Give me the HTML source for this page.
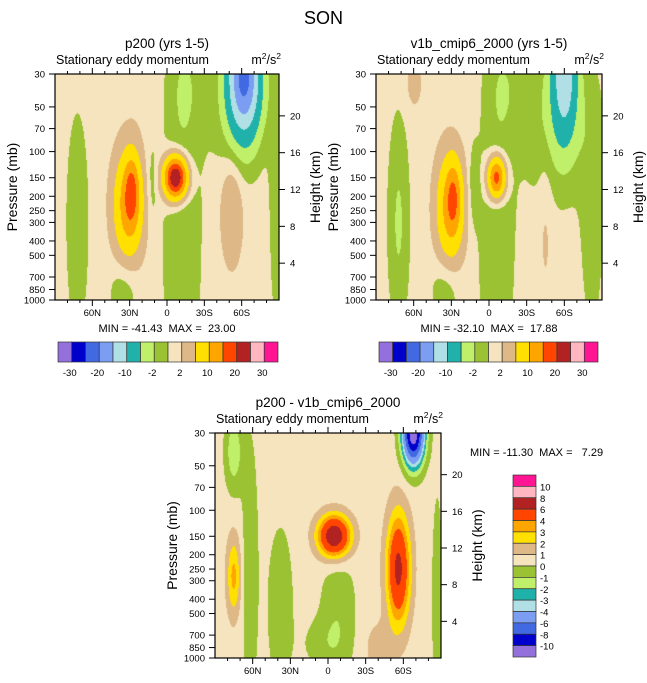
<!DOCTYPE html>
<html><head><meta charset="utf-8">
<style>
html,body{margin:0;padding:0;background:#fff;}
#wrap{position:relative;width:647px;height:683px;overflow:hidden;font-family:"Liberation Sans",sans-serif;}
canvas{position:absolute;}
svg{position:absolute;left:0;top:0;}
</style></head>
<body>
<div id="wrap">
<canvas id="c1"></canvas>
<canvas id="c2"></canvas>
<canvas id="c3"></canvas>
<svg id="s" width="647" height="683"></svg>
</div>
<script>
// ---------- data ----------
const pressureTicks = [30,50,70,100,150,200,250,300,400,500,700,850,1000];
const heightTicks = [4,8,12,16,20];
const latTicks = [60,30,0,-30,-60];
const latTickLabels = ["60N","30N","0","30S","60S"];

const levelsAbs = [-30,-25,-20,-15,-10,-5,-2,0,2,5,10,15,20,25,30];
const levelLabelsAbs = ["-30","-20","-10","-2","2","10","20","30"];
const levelsDiff = [-10,-8,-6,-4,-3,-2,-1,0,1,2,3,4,6,8,10];
const levelLabelsDiff = ["-10","-8","-6","-4","-3","-2","-1","0","1","2","3","4","6","8","10"];
const fillColors = ["#9370DB","#0000CD","#4169E1","#7B9EF2","#B0E0E6","#20B2AA","#C0EF6A","#9AC232",
  "#F5E4BE","#DEB887","#FFE000","#FFA500","#FF4500","#B22222","#FFB6C1","#FF1493"];

// panel 1 field features (lat, pressure mb, amplitude, lat spread deg, height spread km)
const p1Base = 1.0;
const p1Lat = [72, 31, 28, -7, -12, 35, -62, -58, -52, -88, 12, -15, 20];
const p1Pres = [300, 230, 180, 150, 300, 850, 30, 50, 250, 200, 160, 35, 40];
const p1Amp = [-3.0, 12, 8, 26, -2.8, -2.5, -21, -3, 4, -2.5, -2.0, -1.8, 0.5];
const p1SLat = [6, 8, 4, 6.5, 11, 8, 9, 16, 6, 4, 3, 10, 10];
const p1SZ = [8, 4, 2.5, 1.6, 14, 2.5, 4.5, 5, 4, 10, 3, 4, 3];

// panel 2
const p2Base = 1.0;
const p2Lat = [72, 31, 28, -6, -6, 35, -60, -55, -45, -82, 12, -12, 60];
const p2Pres = [300, 240, 200, 150, 350, 850, 28, 60, 300, 300, 170, 35, 35];
const p2Amp = [-3.3, 11, 7, 18, -2.8, -2.5, -13, -3.5, 1.5, -2.5, -2.5, -2.0, 2];
const p2SLat = [6, 7.5, 4, 5, 10, 8, 7, 20, 4, 6, 3, 10, 5];
const p2SZ = [8, 4, 2.5, 1.6, 12, 2.5, 5, 6, 6, 8, 3, 4, 2];

// panel 3 (difference)
const p3Base = 0.5;
const p3Lat = [-5, -56, -68, 75, 62, 38, -8, 75, -87, 5, -40];
const p3Pres = [150, 250, 30, 280, 250, 450, 500, 40, 400, 800, 850];
const p3Amp = [7.4, 6, -12, 2.8, -1.4, -1.4, -1.3, -2.2, -1.3, -0.8, 1];
const p3SLat = [9, 6.5, 6, 4, 4.5, 7, 10, 5, 3, 12, 8];
const p3SZ = [1.6, 4.2, 2.4, 3, 10, 6, 5, 3, 8, 2, 2];

// ---------- helpers ----------
const NS = "http://www.w3.org/2000/svg";
const svg = document.getElementById("s");
function mk(tag, attrs, parent){const e=document.createElementNS(NS,tag);for(const k in attrs)e.setAttribute(k,attrs[k]);(parent||svg).appendChild(e);return e;}
function txt(x,y,s,size,anchor,name,extra){const t=mk("text",Object.assign({x:x,y:y,"font-size":size,"text-anchor":anchor||"start","font-family":"Liberation Sans, sans-serif",fill:"#000"},extra||{}));t.textContent=s;


return t;}
const LNR = Math.log(1000/30);
function zOfP(p){return 7*Math.log(1000/p);}

function field(lat, z, base, L, P, A, SL, SZ){
  let v = base;
  for(let i=0;i<L.length;i++){
    const dl=(lat-L[i])/SL[i], dz=(z-zOfP(P[i]))/SZ[i];
    v += A[i]*Math.exp(-0.5*(dl*dl+dz*dz));
  }
  return v;
}
function colorIdx(v, levels){let i=0;while(i<levels.length && v>=levels[i])i++;return i;}
function hex(c){return [parseInt(c.substr(1,2),16),parseInt(c.substr(3,2),16),parseInt(c.substr(5,2),16)];}
const rgb = fillColors.map(hex);

function panel(o){
  const {id,x0,y0,W,H,base,L,P,A,SL,SZ,levels,name} = o;
  const xS = lat => x0 + (90-lat)/180*W;
  const yS = p => y0 + Math.log(p/30)/LNR*H;
  const cv = document.getElementById(id);
  cv.width=W; cv.height=H; cv.style.left=x0+"px"; cv.style.top=y0+"px";
  const ctx = cv.getContext("2d");
  const img = ctx.createImageData(W,H);
  for(let j=0;j<H;j++){
    const p = 30*Math.exp((j+0.5)/H*LNR), z = zOfP(p);
    for(let i=0;i<W;i++){
      const lat = 90 - (i+0.5)/W*180;
      const c = rgb[colorIdx(field(lat,z,base,L,P,A,SL,SZ),levels)];
      const k=(j*W+i)*4; img.data[k]=c[0];img.data[k+1]=c[1];img.data[k+2]=c[2];img.data[k+3]=255;
    }
  }
  ctx.putImageData(img,0,0);
  const g = mk("g",{});
  
  
  mk("rect",{x:x0,y:y0,width:W,height:H,fill:"none",stroke:"#000","stroke-width":1.2},g);
  pressureTicks.forEach(p=>{const y=yS(p);mk("line",{x1:x0-6,x2:x0,y1:y,y2:y,stroke:"#000","stroke-width":1},g);
    txt(x0-10,y+3.5,String(p),9.5,"end",name+"-pressure-tick");});
  heightTicks.forEach(z=>{const y=yS(1000*Math.exp(-z/7));mk("line",{x1:x0+W,x2:x0+W+6,y1:y,y2:y,stroke:"#000","stroke-width":1},g);
    txt(x0+W+11,y+3.5,String(z),9.5,"start",name+"-height-tick");});
  for(let lat=80;lat>=-80;lat-=10){const x=xS(lat);const major=(lat%30===0);
    mk("line",{x1:x,x2:x,y1:y0+H,y2:y0+H+(major?6:3),stroke:"#000","stroke-width":1},g);
    mk("line",{x1:x,x2:x,y1:y0,y2:y0-(major?6:3),stroke:"#000","stroke-width":1},g);}
  latTicks.forEach((lat,i)=>txt(xS(lat),y0+H+16,latTickLabels[i],9.5,"middle",name+"-lat-tick"));
  txt(0,0,"Pressure (mb)",14,"middle",name+"-y-axis-title",{transform:`translate(${x0-38},${y0+H/2}) rotate(-90)`});
  txt(0,0,"Height (km)",14,"middle",name+"-right-axis-title",{transform:`translate(${x0+W+41},${y0+H/2}) rotate(-90)`});
  txt(x0+1,y0-10,"Stationary eddy momentum",12.5,"start",name+"-subtitle");
  const u=txt(x0+W+2,y0-10,"m",12.5,"end",name+"-units");
  u.innerHTML='m<tspan dy="-5" font-size="8.5">2</tspan><tspan dy="5">/s</tspan><tspan dy="-5" font-size="8.5">2</tspan>';
}

function hbar(x0,y0,w,h,labels,name){
  const n=fillColors.length, bw=w/n;
  for(let i=0;i<n;i++){const r=mk("rect",{x:x0+i*bw,y:y0,width:bw,height:h,fill:fillColors[i],stroke:"#333","stroke-width":0.7});
    
    }
  labels.forEach((s,k)=>{txt(x0+(2*k+1)*bw-2,y0+h+14,s,9.5,"middle",name+"-label");});
}
function vbar(x0,y0,w,h,labels,name){
  const n=fillColors.length, bh=h/n;
  for(let i=0;i<n;i++){const r=mk("rect",{x:x0,y:y0+i*bh,width:w,height:bh,fill:fillColors[n-1-i],stroke:"#333","stroke-width":0.7});
    
    }
  const rev=labels.slice().reverse();
  rev.forEach((s,k)=>{txt(x0+w+4,y0+(k+1)*bh+4,s,9.5,"start",name+"-label");});
}

// ---------- render ----------
txt(323.5,24,"SON",18,"middle","figure-title");
txt(167,48,"p200 (yrs 1-5)",13.5,"middle","p200-title");
txt(489,48,"v1b_cmip6_2000 (yrs 1-5)",13.5,"middle","v1b-title");
txt(328,407,"p200 - v1b_cmip6_2000",13.5,"middle","diff-title");

panel({id:"c1",x0:55,y0:74,W:224,H:226,base:p1Base,L:p1Lat,P:p1Pres,A:p1Amp,SL:p1SLat,SZ:p1SZ,levels:levelsAbs,name:"p200"});
panel({id:"c2",x0:376,y0:74,W:226,H:226,base:p2Base,L:p2Lat,P:p2Pres,A:p2Amp,SL:p2SLat,SZ:p2SZ,levels:levelsAbs,name:"v1b"});
panel({id:"c3",x0:215,y0:433,W:226,H:225,base:p3Base,L:p3Lat,P:p3Pres,A:p3Amp,SL:p3SLat,SZ:p3SZ,levels:levelsDiff,name:"diff"});

txt(167,332,"MIN = -41.43  MAX =  23.00",11,"middle","p200-min-max",{style:"white-space:pre"});
txt(489,332,"MIN = -32.10  MAX =  17.88",11,"middle","v1b-min-max",{style:"white-space:pre"});
txt(470,456,"MIN = -11.30  MAX =   7.29",11,"start","diff-min-max",{style:"white-space:pre"});

hbar(58,342,220,20,levelLabelsAbs,"p200-colorbar");
hbar(379,342,219,20,levelLabelsAbs,"v1b-colorbar");
vbar(513,475,23,182,levelLabelsDiff,"diff-colorbar");
</script>
</body></html>
